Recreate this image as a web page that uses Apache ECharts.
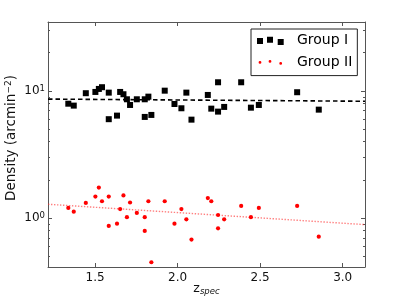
<!DOCTYPE html>
<html><head><meta charset="utf-8">
<script src="https://cdn.jsdelivr.net/npm/echarts@6/dist/echarts.min.js"></script>
<style>html,body{margin:0;padding:0;background:#fff}#c{width:395px;height:298px}</style>
</head><body><div id="c"></div>
<script>
const zspec = [1.338, 1.371, 1.444, 1.502, 1.523, 1.542, 1.583, 1.583, 1.633, 1.652, 1.672, 1.693, 1.712, 1.753, 1.801, 1.801, 1.823, 1.841, 1.922, 1.981, 2.023, 2.053, 2.084, 2.183, 2.204, 2.245, 2.245, 2.282, 2.385, 2.444, 2.492, 2.724, 2.855];
const groupI = [7.94, 7.67, 9.6, 9.82, 10.37, 10.7, 9.7, 6.0, 6.4, 9.82, 9.42, 8.6, 7.76, 8.6, 8.6, 6.25, 9.02, 6.48, 10.05, 7.9, 7.31, 9.7, 5.95, 9.3, 7.26, 11.7, 6.88, 7.49, 11.7, 7.39, 7.76, 9.77, 7.13];
const groupII = [1.205, 1.127, 1.32, 1.48, 1.74, 1.36, 1.48, 0.87, 0.907, 1.18, 1.51, 1.02, 1.33, 1.10, 1.02, 0.795, 1.36, 0.451, 1.36, 0.907, 1.18, 0.98, 0.68, 1.44, 1.36, 1.06, 0.834, 0.98, 1.25, 1.02, 1.205, 1.25, 0.717];
const fitX = [1.215, 3.135];
const fitI = [8.63, 8.30];
const fitII = [1.288, 0.891];
const xTicks = [1.5, 2.0, 2.5, 3.0];
const yMajorTicks = [1, 10];
const yMinorTicks = [0.5, 0.6, 0.7, 0.8, 0.9, 2, 3, 4, 5, 6, 7, 8, 9, 20, 30];
const xRange = [1.215, 3.135];
const yRange = [0.414, 34.8];

const FONT = 'DejaVu Sans';
const AX = '#555';
const sqIcon = 'path://M0 0L0 0M27 10L27 10M0 2.5h6v6h-6zM10 1.2h6v6h-6zM20.7 3.5h6v6h-6z';
const ciIcon = 'path://M0 0L0 0M27 10L27 10' +
  'M1.6 5.3a1.4 1.4 0 1 0 2.8 0a1.4 1.4 0 1 0 -2.8 0z' +
  'M11.6 4.3a1.4 1.4 0 1 0 2.8 0a1.4 1.4 0 1 0 -2.8 0z' +
  'M22.3 6.3a1.4 1.4 0 1 0 2.8 0a1.4 1.4 0 1 0 -2.8 0z';

function pairs(xs, ys) { return xs.map((x, i) => [x, ys[i]]); }

function xAx(pos, labels) {
  return {
    type: 'value', position: pos, min: xRange[0], max: xRange[1],
    axisLine: { show: true, onZero: false, lineStyle: { color: AX, width: 1 } },
    axisTick: { show: true, inside: true, length: 4, customValues: xTicks, lineStyle: { color: AX } },
    axisLabel: labels ? { show: true, customValues: xTicks, formatter: v => Number(v).toFixed(1),
      fontFamily: FONT, fontSize: 12, color: '#111', margin: 5 } : { show: false },
    splitLine: { show: false },
    name: labels ? '{z|z}{s|spec}' : '',
    nameLocation: 'middle', nameGap: 15, nameMoveOverlap: false,
    nameTextStyle: { fontFamily: FONT, color: '#111',
      rich: { z: { fontFamily: FONT, fontSize: 12.5, lineHeight: 14, color: '#111' },
              s: { fontFamily: FONT, fontSize: 8.5, fontStyle: 'italic', lineHeight: 7, verticalAlign: 'bottom', color: '#111' } } }
  };
}
function yAx(pos, major, labels) {
  return {
    type: 'log', logBase: 10, position: pos, min: yRange[0], max: yRange[1],
    axisLine: { show: major, onZero: false, lineStyle: { color: AX, width: 1 } },
    axisTick: { show: true, inside: true, length: major ? 4 : 2,
      customValues: major ? yMajorTicks : yMinorTicks, lineStyle: { color: AX } },
    axisLabel: labels ? { show: true, customValues: yMajorTicks, margin: 3,
      formatter: v => '{b|10}{s|' + Math.round(Math.log10(v)) + '}',
      rich: { b: { fontFamily: FONT, fontSize: 12, lineHeight: 14, color: '#111' },
              s: { fontFamily: FONT, fontSize: 8.5, lineHeight: 6, verticalAlign: 'top', color: '#111' } } } : { show: false },
    splitLine: { show: false },
    name: labels ? 'Density (arcmin{s|−2})' : '',
    nameLocation: 'middle', nameGap: 30, nameMoveOverlap: false,
    nameTextStyle: { fontFamily: FONT, fontSize: 13.5, color: '#111', padding: [0, 0, 0, 13],
      rich: { s: { fontFamily: FONT, fontSize: 9, lineHeight: 6, verticalAlign: 'top', color: '#111' } } }
  };
}

const chart = echarts.init(document.getElementById('c'), null, { renderer: 'canvas' });
chart.setOption({
  animation: false,
  backgroundColor: '#fff',
  grid: { left: 48, right: 30, top: 22, bottom: 31, containLabel: false, outerBoundsMode: 'none' },
  xAxis: [xAx('bottom', true), xAx('top', false)],
  yAxis: [yAx('left', true, true), yAx('right', true, false), yAx('left', false, false), yAx('right', false, false)],
  legend: {
    left: 251, top: 29, orient: 'vertical', padding: [4.5, 5, 6.5, 6], itemGap: 7.6,
    itemWidth: 27, itemHeight: 10, borderColor: '#222', borderWidth: 1, borderRadius: 0,
    backgroundColor: '#fff', selectedMode: false,
    textStyle: { fontFamily: FONT, fontSize: 14, color: '#000', padding: [0, 0, 0, 8] },
    data: [{ name: 'Group I', icon: sqIcon }, { name: 'Group II', icon: ciIcon }]
  },
  series: [
    { name: 'fitI', type: 'line', data: pairs(fitX, fitI), showSymbol: false, symbol: 'none',
      lineStyle: { color: '#000', width: 1.6, type: [4.5, 3] }, z: 1 },
    { name: 'fitII', type: 'line', data: pairs(fitX, fitII), showSymbol: false, symbol: 'none',
      lineStyle: { color: 'rgba(255,40,40,0.6)', width: 1.4, type: [1.4, 1.6] }, z: 1 },
    { name: 'Group I', type: 'scatter', data: pairs(zspec, groupI), symbol: 'rect', symbolSize: 6,
      itemStyle: { color: '#000', opacity: 1 }, z: 3 },
    { name: 'Group II', type: 'scatter', data: pairs(zspec, groupII), symbol: 'circle', symbolSize: 4.2,
      itemStyle: { color: '#ff0000', opacity: 1 }, z: 3 }
  ]
});
</script></body></html>
